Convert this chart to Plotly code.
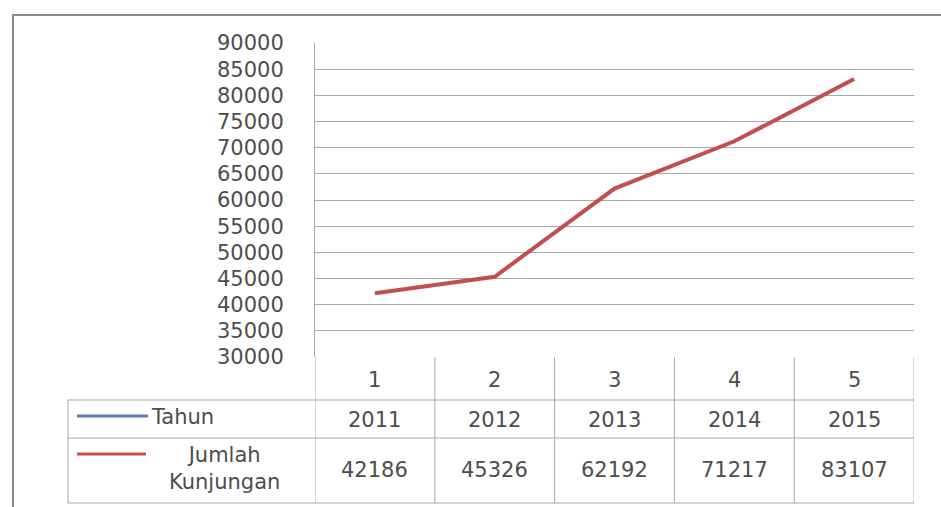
import plotly.graph_objects as go

# Data
periods = [1, 2, 3, 4, 5]
years = ["2011", "2012", "2013", "2014", "2015"]
visits = [42186, 45326, 62192, 71217, 83107]
y_ticks = list(range(30000, 90001, 5000))

W, H = 941, 507
FONT = "DejaVu Sans"
TXT = "#4d4d4d"
GRID = "#a8a8a8"
RED = "#c0504d"
BLUE = "#4f81bd"
FS = 21


def px(x):
    return x / W


def py(y):
    return 1 - y / H


fig = go.Figure()
fig.add_trace(go.Scatter(
    x=periods, y=visits, mode="lines",
    line=dict(color=RED, width=4),
    showlegend=False, hoverinfo="x+y",
))

shapes = []
# outer chart border
shapes.append(dict(type="rect", xref="paper", yref="paper",
                   x0=px(13), x1=px(960), y0=py(520), y1=py(15),
                   line=dict(color="#888888", width=2)))

# data table grid
row_lines = [400, 438, 503]
for yy in row_lines:
    shapes.append(dict(type="line", xref="paper", yref="paper",
                       x0=px(68), x1=px(914), y0=py(yy), y1=py(yy),
                       line=dict(color=GRID, width=1)))
shapes.append(dict(type="line", xref="paper", yref="paper",
                   x0=px(68), x1=px(68), y0=py(400), y1=py(503),
                   line=dict(color=GRID, width=1)))
for i in range(len(periods) + 1):
    xb = periods[0] - 0.5 + i
    shapes.append(dict(type="line", xref="x", yref="paper",
                       x0=xb, x1=xb, y0=py(357), y1=py(503),
                       line=dict(color=GRID, width=1)))

# legend keys inside the table
shapes.append(dict(type="line", xref="paper", yref="paper",
                   x0=px(77), x1=px(148), y0=py(416), y1=py(416),
                   line=dict(color=BLUE, width=3)))
shapes.append(dict(type="line", xref="paper", yref="paper",
                   x0=px(77), x1=px(146), y0=py(454), y1=py(454),
                   line=dict(color=RED, width=3)))


def cell_text(x, y, text, xref="paper", xanchor="center", align="center"):
    return dict(x=x, y=py(y), xref=xref, yref="paper", text=text,
                showarrow=False, xanchor=xanchor, yanchor="middle",
                align=align, font=dict(family=FONT, size=FS, color=TXT))


annotations = []
for p, yr, v in zip(periods, years, visits):
    annotations.append(cell_text(p, 380, str(p), xref="x"))
    annotations.append(cell_text(p, 420, yr, xref="x"))
    annotations.append(cell_text(p, 470, str(v), xref="x"))

annotations.append(cell_text(px(149), 417, "Tahun", xanchor="left"))
annotations.append(cell_text(px(224), 468, "Jumlah<br>Kunjungan"))

fig.update_layout(
    width=W, height=H,
    margin=dict(l=0, r=0, t=0, b=0, autoexpand=False),
    paper_bgcolor="white", plot_bgcolor="white",
    shapes=shapes, annotations=annotations,
    xaxis=dict(domain=[px(315), px(914)], range=[0.5, 5.5],
               showticklabels=False, showgrid=False, zeroline=False,
               showline=False, ticks="", automargin=False),
    yaxis=dict(domain=[py(357), py(43)], range=[30000, 90000],
               tickvals=y_ticks, ticktext=[str(t) for t in y_ticks],
               tickfont=dict(family=FONT, size=FS, color=TXT),
               showgrid=True, gridcolor=GRID, gridwidth=1,
               showline=True, linecolor=GRID, linewidth=1,
               zeroline=False, ticks="", ticklabelstandoff=26,
               automargin=False),
)

fig.write_html("out.html")
